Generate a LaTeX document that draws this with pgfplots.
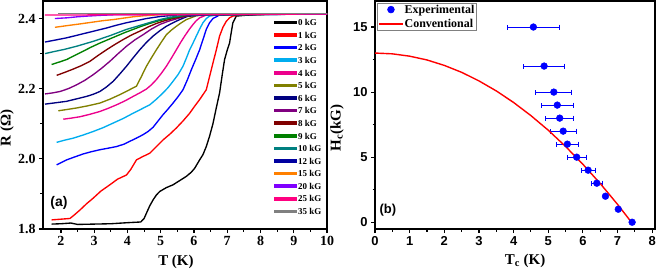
\documentclass[border=0pt]{standalone}
\usepackage{fontspec}
\setmainfont{Liberation Serif}
\newfontfamily\sansb{Liberation Sans}
\usepackage{pgfplots}
\pgfplotsset{compat=1.18}
\definecolor{cOlive}{RGB}{128,128,0}
\definecolor{cNavy}{RGB}{0,0,128}
\definecolor{cPurple}{RGB}{128,0,128}
\definecolor{cWine}{RGB}{128,0,0}
\definecolor{cGreen}{RGB}{0,128,0}
\definecolor{cTeal}{RGB}{0,128,128}
\definecolor{cRoyal}{RGB}{0,0,160}
\definecolor{cOrange}{RGB}{255,128,0}
\definecolor{cViolet}{RGB}{128,0,255}
\definecolor{cPink}{RGB}{255,0,128}
\definecolor{cGray}{RGB}{128,128,128}
\pgfplotsset{
  common/.style={
    scale only axis,
    axis line style={line width=1.3bp},
    tick style={line width=1.1bp, black},
    major tick length=4bp, minor tick length=2.5bp,
    tick align=outside, xtick pos=bottom, ytick pos=left,
    /pgf/number format/assume math mode=true,
    clip=true,
  }
}
\begin{document}
\begin{tikzpicture}
\path[use as bounding box] (0,0) rectangle (660bp,271bp);
% ---------------- (a)
\begin{axis}[common,
  at={(43bp,42bp)}, anchor=south west,
  width=284bp, height=228bp,
  xmin=1.46, xmax=10, ymin=1.8, ymax=2.45,
  xtick={2,3,...,10}, minor x tick num=1,
  ytick={1.8,2.0,2.2,2.4}, minor y tick num=1,
  tick label style={font=\fontsize{14}{14}\selectfont\bfseries},
  yticklabel style={/pgf/number format/.cd, fixed, fixed zerofill, precision=1},
  xlabel={T (K)}, ylabel={R (Ω)},
  label style={font=\fontsize{15}{15}\selectfont\bfseries},
  xlabel style={at={(axis description cs:0.468,-0.145)}, anchor=center},
  ylabel style={at={(axis description cs:-0.127,0.443)}, anchor=center},
  every axis plot/.append style={line width=1.35bp},
  legend style={at={(axis description cs:0.813,0.925)}, anchor=north west,
     draw=none, fill=none, inner sep=0pt,
     font=\fontsize{9}{9}\selectfont\bfseries,
     nodes={inner sep=0.8bp, text height=6.5bp, text depth=0bp, anchor=west},
     row sep=4.5bp},
  legend cell align=left,
  legend image code/.code={\fill[#1] (0bp,-1.1bp) rectangle (22bp,1.1bp);},
]
\addplot[black] coordinates {(1.72,1.814)(2.0,1.815)(2.3,1.817)(2.5,1.813)(3.0,1.814)(3.5,1.815)(4.0,1.818)(4.4,1.82)(4.5,1.83)(4.57,1.845)(4.67,1.866)(4.77,1.883)(4.87,1.897)(4.97,1.907)(5.17,1.918)(5.37,1.926)(5.57,1.938)(5.77,1.95)(5.92,1.962)(6.02,1.973)(6.17,1.997)(6.27,2.012)(6.37,2.035)(6.47,2.065)(6.57,2.10)(6.67,2.145)(6.77,2.188)(6.85,2.24)(6.92,2.283)(7.0,2.31)(7.07,2.33)(7.12,2.36)(7.17,2.388)(7.27,2.407)(7.5,2.409)(7.67,2.41)(8.0,2.412)(10,2.413)};
\addlegendentry{0 kG}
\addplot[red] coordinates {(1.72,1.826)(2.0,1.828)(2.27,1.83)(2.4,1.84)(2.57,1.854)(2.77,1.872)(2.97,1.888)(3.2,1.908)(3.47,1.926)(3.7,1.942)(3.97,1.954)(4.1,1.97)(4.27,1.997)(4.45,2.006)(4.67,2.016)(4.87,2.035)(5.07,2.054)(5.27,2.07)(5.47,2.088)(5.67,2.108)(5.87,2.13)(6.02,2.15)(6.17,2.169)(6.27,2.183)(6.37,2.197)(6.47,2.235)(6.57,2.273)(6.67,2.31)(6.77,2.35)(6.87,2.375)(6.97,2.392)(7.07,2.402)(7.17,2.407)(7.37,2.41)(8,2.412)(10,2.413)};
\addlegendentry{1 kG}
\addplot[blue] coordinates {(1.87,1.983)(2.17,1.997)(2.4,2.005)(2.67,2.014)(2.9,2.02)(3.17,2.026)(3.4,2.03)(3.67,2.035)(3.9,2.042)(4.07,2.05)(4.27,2.059)(4.47,2.069)(4.62,2.078)(4.77,2.09)(4.92,2.108)(5.07,2.126)(5.22,2.142)(5.37,2.159)(5.52,2.177)(5.67,2.197)(5.8,2.225)(5.92,2.254)(6.05,2.283)(6.17,2.311)(6.27,2.34)(6.37,2.369)(6.47,2.388)(6.57,2.4)(6.77,2.41)(7.2,2.412)(10,2.413)};
\addlegendentry{2 kG}
\addplot[cyan] coordinates {(1.87,2.047)(2.1,2.053)(2.37,2.059)(2.67,2.068)(2.97,2.078)(3.27,2.089)(3.57,2.102)(3.87,2.115)(4.17,2.13)(4.42,2.142)(4.67,2.154)(4.87,2.17)(5.07,2.188)(5.22,2.203)(5.37,2.221)(5.52,2.24)(5.67,2.264)(5.77,2.287)(5.87,2.311)(5.97,2.33)(6.07,2.35)(6.17,2.37)(6.27,2.388)(6.37,2.4)(6.47,2.407)(6.67,2.41)(7,2.412)(10,2.413)};
\addlegendentry{3 kG}
\addplot[magenta] coordinates {(2.07,2.113)(2.3,2.116)(2.57,2.12)(2.87,2.127)(3.17,2.135)(3.42,2.144)(3.67,2.154)(3.92,2.165)(4.17,2.178)(4.37,2.188)(4.57,2.199)(4.72,2.211)(4.87,2.226)(5.02,2.244)(5.17,2.264)(5.32,2.287)(5.47,2.311)(5.6,2.332)(5.72,2.35)(5.85,2.368)(5.97,2.383)(6.07,2.394)(6.17,2.402)(6.37,2.41)(6.8,2.412)(10,2.413)};
\addlegendentry{4 kG}
\addplot[cOlive] coordinates {(1.92,2.137)(2.2,2.141)(2.47,2.145)(2.8,2.151)(3.17,2.159)(3.47,2.17)(3.77,2.183)(4.02,2.195)(4.27,2.207)(4.42,2.235)(4.57,2.264)(4.72,2.288)(4.87,2.311)(5.02,2.333)(5.17,2.354)(5.32,2.367)(5.47,2.378)(5.62,2.388)(5.77,2.397)(6.07,2.408)(6.5,2.411)(10,2.413)};
\addlegendentry{5 kG}
\addplot[cNavy] coordinates {(1.52,2.156)(1.85,2.16)(2.17,2.164)(2.47,2.171)(2.77,2.178)(2.97,2.184)(3.17,2.192)(3.37,2.205)(3.57,2.221)(3.77,2.242)(3.97,2.264)(4.17,2.288)(4.37,2.311)(4.57,2.332)(4.77,2.35)(4.97,2.365)(5.17,2.378)(5.37,2.388)(5.57,2.397)(5.8,2.406)(6.2,2.41)(10,2.413)};
\addlegendentry{6 kG}
\addplot[cPurple] coordinates {(1.52,2.185)(1.75,2.188)(1.97,2.192)(2.22,2.2)(2.47,2.211)(2.72,2.224)(2.97,2.24)(3.22,2.258)(3.47,2.278)(3.72,2.3)(3.97,2.321)(4.22,2.339)(4.47,2.354)(4.72,2.37)(4.97,2.383)(5.22,2.392)(5.47,2.399)(5.77,2.407)(6.2,2.411)(10,2.413)};
\addlegendentry{7 kG}
\addplot[cWine] coordinates {(1.87,2.238)(2.1,2.246)(2.37,2.256)(2.62,2.266)(2.87,2.278)(3.12,2.295)(3.37,2.311)(3.62,2.326)(3.87,2.34)(4.12,2.353)(4.37,2.364)(4.62,2.376)(4.87,2.386)(5.12,2.394)(5.37,2.4)(5.77,2.408)(6.2,2.411)(10,2.413)};
\addlegendentry{8 kG}
\addplot[cGreen] coordinates {(1.72,2.269)(1.95,2.276)(2.17,2.283)(2.42,2.295)(2.67,2.307)(2.92,2.319)(3.17,2.33)(3.42,2.34)(3.67,2.35)(3.92,2.36)(4.17,2.369)(4.42,2.378)(4.67,2.386)(4.92,2.393)(5.17,2.399)(5.67,2.408)(6.2,2.411)(10,2.413)};
\addlegendentry{9 kG}
\addplot[cTeal] coordinates {(1.52,2.3)(1.8,2.306)(2.1,2.312)(2.47,2.321)(2.72,2.328)(2.97,2.335)(3.22,2.343)(3.47,2.351)(3.72,2.36)(3.97,2.369)(4.22,2.376)(4.47,2.383)(4.72,2.39)(4.97,2.397)(5.3,2.404)(5.8,2.41)(10,2.413)};
\addlegendentry{10 kG}
\addplot[cRoyal] coordinates {(1.52,2.333)(1.85,2.339)(2.17,2.345)(2.47,2.352)(2.77,2.359)(3.07,2.366)(3.37,2.373)(3.67,2.381)(3.97,2.388)(4.27,2.394)(4.57,2.4)(5.0,2.406)(5.5,2.41)(10,2.413)};
\addlegendentry{12 kG}
\addplot[cOrange] coordinates {(1.82,2.375)(2.2,2.38)(2.6,2.385)(2.97,2.39)(3.27,2.394)(3.57,2.397)(3.87,2.401)(4.17,2.405)(4.5,2.408)(5,2.411)(10,2.413)};
\addlegendentry{15 kG}
\addplot[cViolet] coordinates {(1.82,2.40)(2.17,2.402)(2.5,2.405)(2.8,2.407)(3.17,2.409)(3.67,2.411)(10,2.413)};
\addlegendentry{20 kG}
\addplot[cPink] coordinates {(1.52,2.41)(2.5,2.41)(3.5,2.411)(10,2.413)};
\addlegendentry{25 kG}
\addplot[cGray] coordinates {(1.92,2.414)(10,2.414)};
\addlegendentry{35 kG}
\node[font=\sansb\bfseries\fontsize{14}{14}\selectfont, anchor=center] at (axis description cs:0.056,0.116) {(a)};
\end{axis}
% ---------------- (b)
\begin{axis}[common,
  at={(375bp,42bp)}, anchor=south west,
  width=280bp, height=228bp,
  xmin=0, xmax=8.08, ymin=-0.52, ymax=17,
  xtick={0,1,...,8}, minor x tick num=1,
  ytick={0,5,10,15}, minor y tick num=1,
  tick label style={font=\sansb\bfseries\fontsize{13}{13}\selectfont},
  xlabel={T\textsubscript{c} (K)}, ylabel={H\textsubscript{c}(kG)},
  label style={font=\fontsize{15}{15}\selectfont\bfseries},
  xlabel style={at={(axis description cs:0.536,-0.14)}, anchor=center},
  ylabel style={at={(axis description cs:-0.136,0.443)}, anchor=center},
  legend style={at={(axis description cs:0.007,0.99)}, anchor=north west,
     draw=gray, line width=0.6bp, fill=white, inner xsep=1bp, inner ysep=0.5bp,
     font=\fontsize{12}{12}\selectfont\bfseries,
     nodes={inner sep=1bp, text height=8bp, text depth=1bp, anchor=west},
     row sep=3.5bp},
  legend cell align=left,
  legend image code/.code={\draw[#1, mark repeat=2, mark phase=2] plot coordinates {(0bp,0bp) (12bp,0bp) (24bp,0bp)};},
]
\addplot[only marks, mark=*, mark size=3.4bp, color=blue,
  error bars/.cd, x dir=both, x explicit,
  error bar style={line width=1bp, blue},
  error mark options={rotate=90, mark size=2.5bp, line width=1bp, blue}]
  coordinates {
  (4.57,15) +- (0.76,0)
  (4.88,12) +- (0.6,0)
  (5.16,10) +- (0.52,0)
  (5.26,9) +- (0.46,0)
  (5.33,8) +- (0.41,0)
  (5.43,7) +- (0.38,0)
  (5.55,6) +- (0.32,0)
  (5.82,5) +- (0.27,0)
  (6.15,4) +- (0.2,0)
  (6.40,3) +- (0.16,0)
  (6.65,2) +- (0.05,0)
  (7.02,1) +- (0,0)
  (7.42,0) +- (0,0)
  };
\addlegendentry{Experimental}
\addplot[red, line width=1.4bp] coordinates {
  (0,13)(0.5,12.94)(1,12.76)(1.5,12.47)(2,12.05)(2.5,11.52)(3,10.86)(3.5,10.09)(4,9.20)(4.5,8.19)(5,7.07)(5.5,5.82)(6,4.45)(6.5,2.97)(7,1.37)(7.4,0)};
\addlegendentry{Conventional}
\node[font=\sansb\bfseries\fontsize{13}{13}\selectfont, anchor=center] at (axis description cs:0.046,0.081) {(b)};
\end{axis}
\end{tikzpicture}
\end{document}
